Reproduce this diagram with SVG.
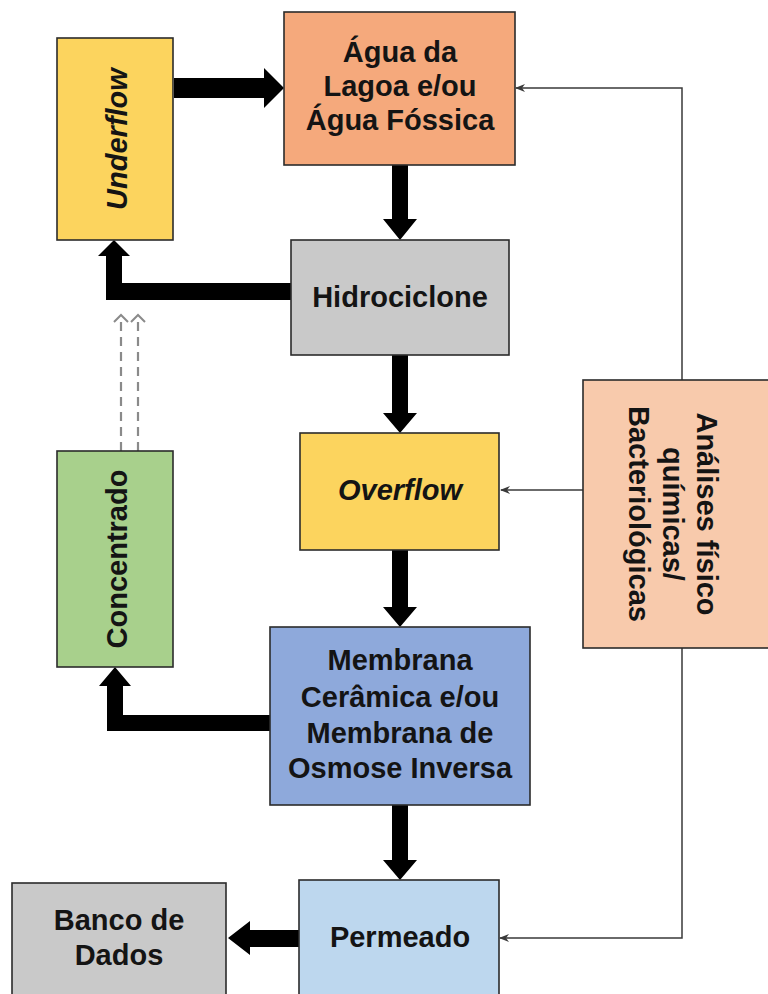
<svg xmlns="http://www.w3.org/2000/svg" width="768" height="994" viewBox="0 0 768 994">
<style>
.box{stroke:#2b2b2b;stroke-width:1.6}
.t{font-family:"Liberation Sans",Arial,sans-serif;font-weight:bold;font-size:29px;fill:#141414;text-anchor:middle}
.it{font-style:italic}
.blk{fill:#000}
.thin{stroke:#3a3a3a;stroke-width:1.5;fill:none}
.dash{stroke:#8a8a8a;stroke-width:2.2;fill:none;stroke-dasharray:9 6}
.chev{stroke:#8a8a8a;stroke-width:2;fill:none}
</style>
<defs>
<marker id="ah" markerWidth="10" markerHeight="8" refX="9" refY="4" orient="auto" markerUnits="userSpaceOnUse">
<path d="M0,0 L10,4 L0,8 L3,4 Z" fill="#3a3a3a"/>
</marker>
</defs>
<rect width="768" height="994" fill="#fff"/>
<g id="connectors">
<!-- Underflow -> Agua -->
<path class="blk" d="M174,78 H264 V68 L284,88 L264,108 V98 H174 Z"/>
<!-- Agua -> Hidrociclone -->
<path class="blk" d="M392,165 V219 H383 L400,240 L417,219 H408 V165 Z"/>
<!-- Hidrociclone -> Underflow -->
<path class="blk" d="M291,283 H122 V256 H130 L114,240 L98,256 H106 V300 H291 Z"/>
<!-- Hidrociclone -> Overflow -->
<path class="blk" d="M392,355 V413 H383 L400,433 L417,413 H408 V355 Z"/>
<!-- Overflow -> Membrana -->
<path class="blk" d="M392,550 V607 H383 L400,627 L417,607 H408 V550 Z"/>
<!-- Membrana -> Concentrado -->
<path class="blk" d="M270,715 H123 V686 H131 L115,667 L99,686 H107 V731 H270 Z"/>
<!-- Membrana -> Permeado -->
<path class="blk" d="M392,805 V860 H383 L400,880 L417,860 H408 V805 Z"/>
<!-- Permeado -> Banco -->
<path class="blk" d="M299,930 H250 V921 L228,938 L250,955 V947 H299 Z"/>
<!-- Concentrado dashed returns -->
<line class="dash" x1="121" y1="451" x2="121" y2="316"/>
<line class="dash" x1="138" y1="451" x2="138" y2="316"/>
<polyline class="chev" points="114,322 121,315 128,322"/>
<polyline class="chev" points="131,322 138,315 145,322"/>
<!-- analysis feedback lines -->
<polyline class="thin" points="682,380 682,88 516,88" marker-end="url(#ah)"/>
<line class="thin" x1="583" y1="490" x2="501" y2="490" marker-end="url(#ah)"/>
<polyline class="thin" points="682,648 682,938 500,938" marker-end="url(#ah)"/>
</g>
<g id="underflow">
<rect class="box" x="57" y="38" width="116" height="202" fill="#FCD45E"/>
<text class="t it" transform="translate(127,139) rotate(-90)">Underflow</text>
</g>
<g id="agua">
<rect class="box" x="284" y="12" width="231" height="153" fill="#F5A97C"/>
<text class="t" x="400" y="62">Água da</text>
<text class="t" x="400" y="96">Lagoa e/ou</text>
<text class="t" x="400" y="130">Água Fóssica</text>
</g>
<g id="hidrociclone">
<rect class="box" x="291" y="240" width="218" height="115" fill="#C9C9C9"/>
<text class="t" x="400" y="307">Hidrociclone</text>
</g>
<g id="overflow">
<rect class="box" x="300" y="433" width="199" height="117" fill="#FCD45E"/>
<text class="t it" x="400" y="500">Overflow</text>
</g>
<g id="analises">
<rect class="box" x="583" y="380" width="190" height="268" fill="#F8CAAC"/>
<text class="t" transform="translate(697,514) rotate(90)">Análises físico</text>
<text class="t" transform="translate(663,514) rotate(90)">químicas/</text>
<text class="t" transform="translate(629,514) rotate(90)">Bacteriológicas</text>
</g>
<g id="concentrado">
<rect class="box" x="57" y="451" width="116" height="216" fill="#A8D08C"/>
<text class="t" transform="translate(127,559) rotate(-90)">Concentrado</text>
</g>
<g id="membrana">
<rect class="box" x="270" y="627" width="260" height="178" fill="#8EA9DB"/>
<text class="t" x="400" y="670">Membrana</text>
<text class="t" x="400" y="707">Cerâmica e/ou</text>
<text class="t" x="400" y="743">Membrana de</text>
<text class="t" x="400" y="778">Osmose Inversa</text>
</g>
<g id="permeado">
<rect class="box" x="299" y="880" width="200" height="130" fill="#BDD7EE"/>
<text class="t" x="400" y="947">Permeado</text>
</g>
<g id="banco">
<rect class="box" x="12" y="883" width="214" height="130" fill="#C9C9C9"/>
<text class="t" x="119" y="930">Banco de</text>
<text class="t" x="119" y="965">Dados</text>
</g>
</svg>
